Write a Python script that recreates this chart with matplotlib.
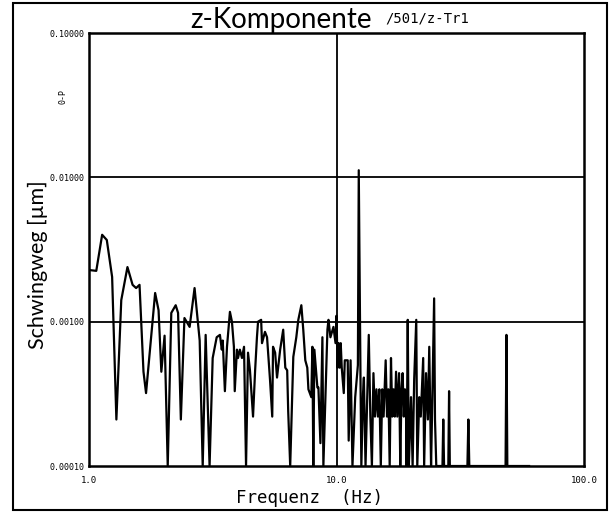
import matplotlib
matplotlib.use("Agg")
import matplotlib.pyplot as plt
from matplotlib.patches import Rectangle

# spectrum trace (Hz, um)
freq = [1.00, 1.07, 1.13, 1.18, 1.24, 1.29, 1.35, 1.43, 1.50, 1.55,
        1.60, 1.66, 1.70, 1.85, 1.91, 1.96, 2.02, 2.08, 2.15, 2.24,
        2.29, 2.35, 2.43, 2.55, 2.67, 2.80, 2.88, 2.96, 3.07, 3.16,
        3.28, 3.38, 3.44, 3.47, 3.54, 3.61, 3.71, 3.78, 3.85, 3.88,
        3.96, 4.00, 4.07, 4.15, 4.23, 4.31, 4.39, 4.47, 4.60, 4.69,
        4.77, 4.82, 4.96, 5.00, 5.14, 5.24, 5.39, 5.50, 5.54, 5.65,
        5.75, 5.92, 6.09, 6.21, 6.32, 6.38, 6.50, 6.69, 6.88, 7.01,
        7.21, 7.34, 7.48, 7.62, 7.70, 7.91, 7.99, 8.06, 8.14, 8.37,
        8.45, 8.61, 8.77, 8.85, 9.19, 9.28, 9.45, 9.72, 9.91, 10.0,
        10.1, 10.2, 10.3, 10.4, 10.5, 10.7, 10.8, 11.0, 11.1, 11.2,
        11.4, 11.6, 11.9, 12.2, 12.3, 12.5, 12.6, 12.8, 12.9, 13.1,
        13.5, 13.7, 13.9, 14.1, 14.3, 14.5, 14.7, 14.9, 15.1, 15.3,
        15.5, 15.8, 16.0, 16.2, 16.4, 16.6, 16.8, 17.0, 17.2, 17.4,
        17.6, 17.9, 18.1, 18.3, 18.5, 18.7, 18.9, 19.1, 19.2, 19.4,
        19.6, 20.0, 20.3, 20.6, 21.0, 21.2, 21.6, 21.9, 22.4, 22.6,
        23.0, 23.4, 23.7, 24.1, 24.3, 24.8, 25.0, 25.3, 26.8, 27.0,
        27.2, 28.3, 28.5, 28.7, 33.8, 34.1, 34.4, 48.2, 48.6, 49.0,
        60.0]
amp = [0.00228, 0.00225, 0.0040, 0.00368, 0.00204, 0.00021, 0.00141, 0.00239, 0.00180, 0.00171,
       0.00180, 0.00045, 0.00032, 0.00158, 0.00120, 0.00045, 0.00080, 0.0001, 0.00115, 0.00130,
       0.00115, 0.00021, 0.00106, 0.00092, 0.00171, 0.00074, 0.0001, 0.00081, 0.0001, 0.00056,
       0.00078, 0.00081, 0.00064, 0.00074, 0.00033, 0.00067, 0.00117, 0.00100, 0.00067, 0.00033,
       0.00064, 0.00056, 0.00064, 0.00056, 0.00067, 0.0001, 0.00061, 0.00046, 0.00022, 0.00046,
       0.00078, 0.00100, 0.00103, 0.00071, 0.00085, 0.00078, 0.00039, 0.00022, 0.00067, 0.00061,
       0.00041, 0.00064, 0.00088, 0.00048, 0.00046, 0.00024, 0.0001, 0.00057, 0.00078, 0.00103,
       0.00130, 0.00088, 0.00054, 0.00048, 0.00034, 0.00030, 0.00067, 0.0001, 0.00064, 0.00035,
       0.00035, 0.000144, 0.00078, 0.0001, 0.00088, 0.00103, 0.00078, 0.00092, 0.00071, 0.0011,
       0.00048, 0.00071, 0.00048, 0.00071, 0.00048, 0.00032, 0.00054, 0.00054, 0.00054, 0.00015,
       0.00054, 0.0001, 0.00030, 0.00050, 0.0112, 0.00041, 0.0001, 0.00032, 0.00041, 0.0001,
       0.00081, 0.00022, 0.0001, 0.00044, 0.00022, 0.00034, 0.00022, 0.00034, 0.0001, 0.00034,
       0.00022, 0.00054, 0.00022, 0.00034, 0.0001, 0.00056, 0.00022, 0.00034, 0.00022, 0.00045,
       0.00022, 0.00044, 0.0001, 0.00034, 0.00044, 0.00022, 0.00034, 0.00022, 0.0001, 0.00103,
       0.0001, 0.00030, 0.0001, 0.00040, 0.00103, 0.0001, 0.00030, 0.00022, 0.00056, 0.0001,
       0.00044, 0.00021, 0.00067, 0.0001, 0.00021, 0.00145, 0.00021, 0.0001, 0.0001, 0.00021,
       0.0001, 0.0001, 0.00033, 0.0001, 0.0001, 0.00021, 0.0001, 0.0001, 0.00081, 0.0001,
       0.0001]

xticks = [1.0, 10.0, 100.0]
xticklabels = ["1.0", "10.0", "100.0"]
yticks = [0.0001, 0.001, 0.01, 0.1]
yticklabels = ["0.00010", "0.00100", "0.01000", "0.10000"]

mono = "DejaVu Sans Mono"
sans = "Lato"

fig = plt.figure(figsize=(6.13, 5.19), dpi=100)
ax = fig.add_axes([0.1452, 0.1021, 0.8075, 0.8343])

ax.plot(freq, amp, color="k", linewidth=1.6)
ax.set_xscale("log")
ax.set_yscale("log")
ax.set_xlim(1.0, 100.0)
ax.set_ylim(0.0001, 0.1)

# the plotter only draws one grid line per decade
ax.axvline(10.0, color="k", linewidth=1.3)
ax.axhline(0.01, color="k", linewidth=1.3)
ax.axhline(0.001, color="k", linewidth=1.3)

ax.minorticks_off()
ax.set_xticks(xticks)
ax.set_xticklabels(xticklabels, fontfamily=mono, fontsize=6.5)
ax.set_yticks(yticks)
ax.set_yticklabels(yticklabels, fontfamily=mono, fontsize=6)
ax.tick_params(length=0)
ax.tick_params(axis="x", pad=7)
ax.tick_params(axis="y", pad=3)
for s in ax.spines.values():
    s.set_linewidth(1.8)

ax.set_xlabel("Frequenz  (Hz)", fontfamily=mono, fontsize=12.5)
ax.xaxis.set_label_coords(0.446, -0.052)
ax.set_ylabel("Schwingweg [µm]", fontfamily=sans, fontsize=15.5)
ax.yaxis.set_label_coords(-0.082, 0.464)

fig.text(0.31, 0.962, "z-Komponente", fontfamily=sans, fontsize=20,
         ha="left", va="center")
fig.text(0.628, 0.964, "/501/z-Tr1", fontfamily=mono, fontsize=10,
         ha="left", va="center")
fig.text(0.102, 0.815, "0-P", fontfamily=mono, fontsize=6,
         rotation=90, ha="center", va="center")

# outer frame round the whole sheet
fig.patches.append(Rectangle((0.0212, 0.0173), 0.969, 0.977,
                             transform=fig.transFigure, fill=False,
                             edgecolor="k", linewidth=1.5))

fig.savefig("out.png", dpi=100)
